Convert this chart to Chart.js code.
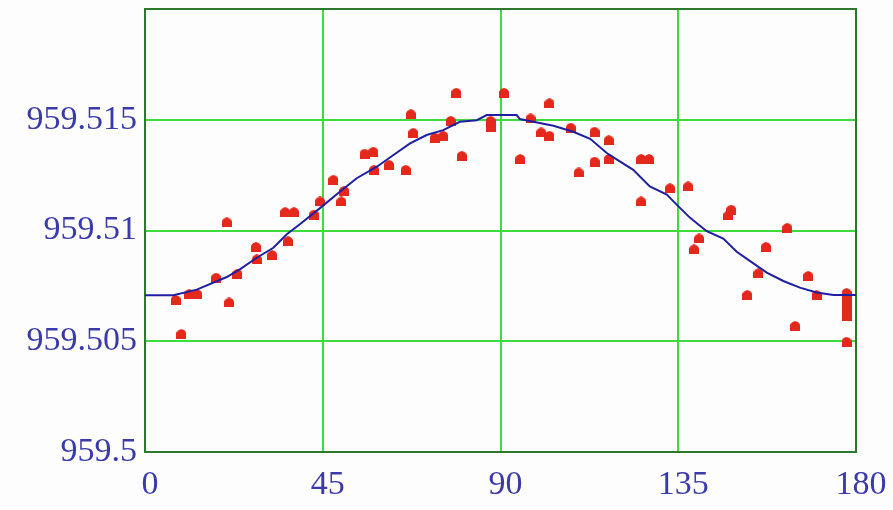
<!DOCTYPE html>
<html>
<head>
<meta charset="utf-8">
<script src="https://cdn.jsdelivr.net/npm/chart.js@4"></script>
<style>
  body { margin: 0; background: #fdfdfd; }
  canvas { display: block; }
</style>
</head>
<body>
<canvas id="fit" width="893" height="510"></canvas>
<script>
// measured points
const obsX = [7.8, 9.2, 11.2, 13.2, 18.0, 20.7, 21.3, 23.4, 28.1, 28.3, 32.2, 35.5, 37.7, 36.2, 42.8,
  44.3, 47.7, 50.4, 49.7, 55.6, 57.8, 58.0, 61.8, 66.0, 67.3, 67.9, 73.4, 75.5, 77.4, 78.8, 80.2,
  87.5, 87.5, 90.9, 95.0, 97.6, 102.4, 100.3, 102.4, 107.8, 109.8, 113.8, 113.8, 117.4, 117.4,
  125.6, 127.6, 125.6, 132.9, 137.5, 148.4, 147.7, 140.3, 139.0, 157.2, 162.6, 155.3, 152.5,
  167.9, 164.6, 170.0, 177.6, 177.6, 177.6, 177.6, 177.6, 177.6];
const obsY = [959.50687, 959.50533, 959.50713, 959.50713, 959.50787, 959.51037, 959.50675, 959.50805,
  959.50926, 959.50870, 959.50889, 959.51083, 959.51083, 959.50952, 959.51072, 959.51131, 959.51229,
  959.51179, 959.51131, 959.51347, 959.51356, 959.51274, 959.51296, 959.51274, 959.51525, 959.51441,
  959.51419, 959.51428, 959.51495, 959.51622, 959.51337, 959.51495, 959.51468, 959.51622, 959.51323,
  959.51506, 959.51575, 959.51443, 959.51428, 959.51464, 959.51262, 959.51446, 959.51311, 959.51408,
  959.51323, 959.51323, 959.51323, 959.51131, 959.51191, 959.51199, 959.51094, 959.51069, 959.50964,
  959.50915, 959.50926, 959.51012, 959.50807, 959.50709, 959.50795, 959.50569, 959.50709,
  959.50718, 959.50691, 959.50664, 959.50637, 959.50615, 959.50498];

// fitted curve
const fitX = [0, 7.2, 13.1, 20.7, 24.1, 28.3, 32.5, 35.9, 39.2, 44.3, 49.4, 53.6, 58.7, 62.9, 67.1,
  71.3, 75.5, 79.7, 84.0, 86.5, 94.1, 94.9, 98.3, 103.4, 108.4, 112.7, 116.9, 120.3, 123.6, 127.8,
  132.1, 134.6, 138.0, 142.2, 146.4, 149.8, 153.2, 157.4, 161.6, 165.8, 170.0, 174.3, 180];
const fitY = [959.50708, 959.50708, 959.50733, 959.50790, 959.50826, 959.50877, 959.50922, 959.50983,
  959.51028, 959.51101, 959.51176, 959.51236, 959.51288, 959.51341, 959.51393, 959.51431, 959.51453,
  959.51491, 959.51498, 959.51521, 959.51521, 959.51503, 959.51491, 959.51473, 959.51446, 959.51414,
  959.51350, 959.51311, 959.51274, 959.51199, 959.51162, 959.51117, 959.51057, 959.50997, 959.50964,
  959.50904, 959.50862, 959.50810, 959.50772, 959.50742, 959.50720, 959.50709, 959.50709];

const xTicks = [0, 45, 90, 135, 180];
const yTicks = [959.5, 959.505, 959.51, 959.515];

const labelColor = "#3a3aad";
const gridColor = "#3ddc3d";
const frameColor = "#2b7a2b";

// little dome-topped square marker
function makeMarker() {
  const c = document.createElement("canvas");
  c.width = 10;
  c.height = 10;
  const g = c.getContext("2d");
  g.fillStyle = "#e4281c";
  g.beginPath();
  g.moveTo(0, 10);
  g.lineTo(0, 3.5);
  g.lineTo(2, 1.2);
  g.lineTo(5, 0);
  g.lineTo(8, 1.2);
  g.lineTo(10, 3.5);
  g.lineTo(10, 10);
  g.closePath();
  g.fill();
  return c;
}

const framePlugin = {
  id: "frame",
  beforeDatasetsDraw(chart) {
    const { ctx, chartArea: a } = chart;
    ctx.save();
    ctx.strokeStyle = frameColor;
    ctx.lineWidth = 2;
    ctx.strokeRect(a.left, a.top, a.right - a.left, a.bottom - a.top);
    ctx.restore();
  },
};

new Chart(document.getElementById("fit"), {
  type: "scatter",
  data: {
    datasets: [
      {
        label: "fit",
        data: fitX.map((x, i) => ({ x: x, y: fitY[i] })),
        showLine: true,
        borderColor: "#1f1fa3",
        borderWidth: 2,
        pointRadius: 0,
        tension: 0,
        order: 0,
      },
      {
        label: "data",
        data: obsX.map((x, i) => ({ x: x, y: obsY[i] })),
        pointStyle: makeMarker(),
        pointRadius: 5,
        order: 1,
      },
    ],
  },
  options: {
    responsive: false,
    animation: false,
    layout: { padding: { top: 9, right: 37, left: 0, bottom: 0 } },
    plugins: { legend: { display: false }, tooltip: { enabled: false } },
    scales: {
      x: {
        type: "linear",
        min: 0,
        max: 180,
        afterBuildTicks: (s) => { s.ticks = xTicks.map((v) => ({ value: v })); },
        afterFit: (s) => {
          s.height = 58;
          s.paddingLeft = 0;
          s.paddingRight = 0;
        },
        grid: { color: gridColor, lineWidth: 2, drawTicks: false },
        border: { display: false },
        ticks: {
          color: labelColor,
          font: { family: "Liberation Serif", size: 34 },
          padding: 13,
          labelOffset: 5,
          maxRotation: 0,
          callback: (v) => String(v),
        },
      },
      y: {
        type: "linear",
        min: 959.5,
        max: 959.52,
        afterBuildTicks: (s) => {
          s.ticks = yTicks.concat([959.52]).map((v) => ({ value: v }));
        },
        afterFit: (s) => {
          s.width = 145;
          s.paddingTop = 0;
          s.paddingBottom = 0;
        },
        grid: { color: gridColor, lineWidth: 2, drawTicks: false },
        border: { display: false },
        ticks: {
          color: labelColor,
          font: { family: "Liberation Serif", size: 34 },
          padding: 8,
          callback: (v) => (v >= 959.5199 ? "" : String(Number(v.toFixed(3)))),
        },
      },
    },
  },
  plugins: [framePlugin],
});
</script>
</body>
</html>
